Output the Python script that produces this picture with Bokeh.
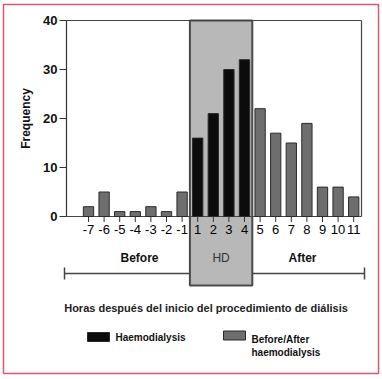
import math
from bokeh.plotting import figure
from bokeh.models import Range1d, FixedTicker, BoxAnnotation, Node, ColumnDataSource
from bokeh.core.properties import value
from bokeh.embed import file_html
from bokeh.resources import INLINE

# ---- data ----
hours = ["-7", "-6", "-5", "-4", "-3", "-2", "-1", "1", "2", "3", "4", "5", "6", "7", "8", "9", "10", "11"]
frequency = [2, 5, 1, 1, 2, 1, 5, 16, 21, 30, 32, 22, 17, 15, 19, 6, 6, 4]
phase = ["before"] * 7 + ["hd"] * 4 + ["after"] * 7
y_ticks = [0, 10, 20, 30, 40]
y_title = "Frequency"
x_title = "Horas después del inicio del procedimiento de diálisis"
legend_labels = ["Haemodialysis", "Before/After", "haemodialysis"]

# ---- layout constants (pixels) ----
W, H = 382, 379
AXIS_PX = 66
X0PX, DXPX = 88.0, 15.6      # pixel of first category, pixel per category
Y0PX, DYPX = 216.0, 4.9      # pixel of y=0, pixel per unit


def xd(px):
    return (px - X0PX) / DXPX


def yd(py):
    return (Y0PX - py) / DYPX


FONT = value("Liberation Sans")
idx = list(range(len(hours)))
colors = ["#0c0c0c" if ph == "hd" else "#6e6e6e" for ph in phase]

p = figure(width=W, height=H, output_backend="svg", toolbar_location=None,
           title=None, x_axis_location=None, y_axis_location="left",
           min_border_left=0, min_border_right=0, min_border_top=0, min_border_bottom=0,
           x_range=Range1d(xd(0), xd(W)), y_range=Range1d(yd(H), yd(0)))
p.outline_line_color = None
p.grid.visible = False
p.background_fill_color = "white"
p.border_fill_color = "white"

ya = p.yaxis[0]
ya.fixed_location = xd(AXIS_PX)
ya.bounds = (0, 40)
ya.ticker = FixedTicker(ticks=y_ticks)
ya.minor_tick_line_color = None
ya.major_tick_in = 0
ya.major_tick_out = 7
ya.major_tick_line_color = "#333333"
ya.axis_line_color = "#333333"
ya.axis_line_width = 1.2
ya.major_label_text_font = "Liberation Sans"
ya.major_label_text_font_style = "bold"
ya.major_label_text_font_size = "13px"
ya.major_label_text_color = "#111111"
ya.major_label_standoff = 2

# y axis title
p.text(x=[xd(25)], y=[20], text=[y_title], angle=math.pi / 2, text_font=FONT,
       text_font_style="bold", text_font_size="12px", text_align="center",
       text_baseline="middle", text_color="#111111")

# HD shaded box
hd_left = idx[6] + 0.5
hd_right = idx[10] + 0.5
p.quad(left=[hd_left], right=[hd_right], top=[40], bottom=[yd(285)],
       fill_color="#b8b8b8", line_color="#4a4a4a", line_width=2)

# frame lines (top, right, baseline)
x_frame_l = xd(AXIS_PX)
x_frame_r = xd(361)
p.segment(x0=[x_frame_l, x_frame_r, x_frame_l], y0=[40, 0, 0],
          x1=[x_frame_r, x_frame_r, x_frame_r], y1=[40, 40, 0],
          line_color="#444444", line_width=1.2)

# bars
src = ColumnDataSource(dict(x=idx, top=frequency, color=colors, label=hours))
p.vbar(x="x", top="top", width=0.66, bottom=0, fill_color="color",
       line_color="#2a2a2a", line_width=1, source=src)

# x ticks and labels
p.segment(x0=idx, y0=[0] * len(idx), x1=idx, y1=[yd(221.5)] * len(idx),
          line_color="#333333", line_width=1)
p.text(x="x", y=yd(229), text="label", source=src, text_font=FONT,
       text_font_size="13px", text_align="center", text_baseline="middle",
       text_color="#000000")

# phase range line
xl, xr = xd(64), xd(364)
yl = yd(273)
p.segment(x0=[xl, hd_right, xl, xr], y0=[yl, yl, yd(267), yd(267)],
          x1=[hd_left, xr, xl, xr], y1=[yl, yl, yd(279), yd(279)],
          line_color="#444444", line_width=1.5)

p.text(x=[xd(139), xd(302)], y=[yd(257), yd(257)], text=["Before", "After"],
       text_font=FONT, text_font_style="bold", text_font_size="12px",
       text_align="center", text_baseline="middle", text_color="#111111")
p.text(x=[(hd_left + hd_right) / 2], y=[yd(257)], text=["HD"],
       text_font=FONT, text_font_size="12px",
       text_align="center", text_baseline="middle", text_color="#333333")

# x title
p.text(x=[xd(205.5)], y=[yd(307)], text=[x_title], text_font=FONT,
       text_font_style="bold", text_font_size="11px", text_align="center",
       text_baseline="middle", text_color="#222222")

# legend swatches + labels
p.rect(x=[xd(98), xd(234)], y=[yd(336.5), yd(335)], width=22, height=9,
       width_units="screen", height_units="screen",
       fill_color=["#0c0c0c", "#6e6e6e"], line_color="#2a2a2a", line_width=1)
p.text(x=[xd(115), xd(251), xd(251)], y=[yd(337), yd(339), yd(352)], text=legend_labels,
       text_font=FONT, text_font_style="bold", text_font_size="10px",
       text_align="left", text_baseline="middle", text_color="#111111")

# outer red border
p.add_layout(BoxAnnotation(
    left=Node(target="canvas", symbol="left", offset=3),
    right=Node(target="canvas", symbol="right", offset=-4),
    top=Node(target="canvas", symbol="top", offset=4),
    bottom=Node(target="canvas", symbol="bottom", offset=-6),
    fill_alpha=0, line_alpha=0.85, line_color="#dc3a58", line_width=1.5))

open("out.html", "w").write(file_html(p, INLINE))
